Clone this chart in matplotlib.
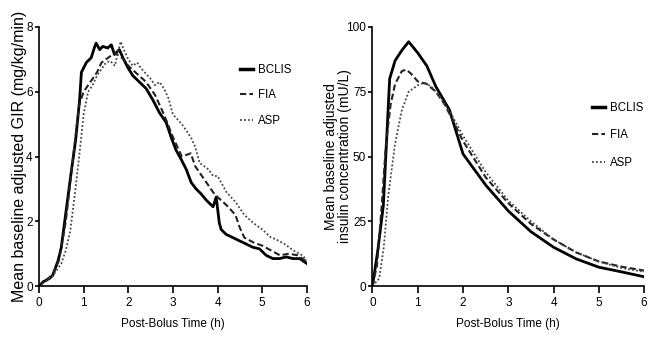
import numpy as np
import matplotlib
matplotlib.use("Agg")
import matplotlib.pyplot as plt

# GIR curves (left panel)
gir_bclis_t = [0, 0.09, 0.24, 0.31, 0.43, 0.5, 0.6, 0.72, 0.82, 0.91, 0.95, 1.06, 1.17, 1.25, 1.28,
               1.36, 1.43, 1.54, 1.62, 1.69, 1.8, 1.88, 1.99, 2.1, 2.25, 2.4, 2.55, 2.7, 2.85, 2.96,
               3.07, 3.19, 3.3, 3.41, 3.52, 3.63, 3.75, 3.9, 3.97, 4.04, 4.08, 4.19, 4.34, 4.49, 4.64,
               4.79, 4.94, 5.09, 5.24, 5.39, 5.54, 5.69, 5.84, 6.0]
gir_bclis = [0, 0.13, 0.24, 0.34, 0.8, 1.2, 2.25, 3.5, 4.5, 5.75, 6.6, 6.9, 7.05, 7.4, 7.5,
             7.3, 7.4, 7.35, 7.45, 7.15, 7.3, 7.05, 6.75, 6.5, 6.3, 6.1, 5.75, 5.35, 5.05, 4.6,
             4.2, 3.9, 3.6, 3.2, 3.0, 2.85, 2.65, 2.45, 2.75, 1.95, 1.75, 1.6, 1.5, 1.4, 1.3,
             1.2, 1.15, 0.95, 0.85, 0.85, 0.9, 0.85, 0.85, 0.7]

gir_fia_t = [0, 0.3, 0.45, 0.6, 0.75, 0.85, 0.9, 1.0, 1.1, 1.2, 1.3, 1.4, 1.5, 1.6, 1.7, 1.8, 1.9,
             2.0, 2.2, 2.4, 2.6, 2.8, 3.0, 3.2, 3.4, 3.5, 3.7, 3.9, 4.0, 4.2, 4.4, 4.5, 4.6, 4.8,
             5.0, 5.2, 5.4, 5.6, 5.8, 6.0]
gir_fia = [0, 0.35, 0.8, 2.0, 3.8, 5.0, 5.6, 6.0, 6.2, 6.4, 6.6, 6.9, 7.0, 7.1, 7.2, 7.1, 7.0,
           6.8, 6.55, 6.3, 5.9, 5.3, 4.6, 4.0, 4.1, 3.7, 3.3, 2.9, 2.75, 2.5, 2.2, 1.8, 1.5, 1.35,
           1.25, 1.1, 0.95, 1.0, 0.95, 0.75]

gir_asp_t = [0, 0.3, 0.5, 0.6, 0.7, 0.8, 0.9, 1.0, 1.1, 1.2, 1.3, 1.4, 1.5, 1.6, 1.7, 1.75, 1.83,
             1.9, 2.0, 2.1, 2.2, 2.3, 2.5, 2.6, 2.7, 2.8, 2.9, 3.0, 3.2, 3.4, 3.5, 3.6, 3.8, 3.9,
             4.0, 4.2, 4.4, 4.6, 4.8, 5.0, 5.2, 5.3, 5.5, 5.7, 5.9, 6.0]
gir_asp = [0, 0.3, 0.7, 1.1, 1.7, 2.8, 4.0, 5.3, 6.0, 6.2, 6.5, 6.7, 6.9, 6.95, 6.8, 7.1, 7.55,
           7.3, 7.0, 6.8, 6.9, 6.7, 6.4, 6.2, 6.3, 6.1, 5.8, 5.3, 5.0, 4.6, 4.3, 3.8, 3.6, 3.4,
           3.4, 2.9, 2.6, 2.2, 1.95, 1.75, 1.5, 1.45, 1.3, 1.1, 0.95, 0.8]

# insulin curves (right panel)
ins_bclis_t = [0, 0.12, 0.24, 0.38, 0.5, 0.65, 0.8, 1.0, 1.2, 1.4, 1.5, 1.7, 2.0, 2.5, 3.0, 3.5,
               4.0, 4.5, 5.0, 5.5, 6.0]
ins_bclis = [0, 14, 31, 80, 87, 91, 94.3, 90, 85, 77, 74, 68, 51, 39, 29, 21, 15, 10.5, 7.3, 5.5, 3.6]

ins_fia_t = [0, 0.1, 0.2, 0.3, 0.4, 0.5, 0.65, 0.75, 0.85, 1.0, 1.2, 1.4, 1.6, 2.0, 2.5, 3.0, 3.5,
             4.0, 4.5, 5.0, 5.5, 6.0]
ins_fia = [0, 8, 30, 55, 70, 78, 83, 83.5, 82, 79, 78, 75, 70, 56, 42, 32, 24, 18, 13, 9.5, 7.5, 6]

ins_asp_t = [0, 0.15, 0.25, 0.35, 0.5, 0.65, 0.8, 1.0, 1.15, 1.3, 1.5, 1.75, 2.0, 2.5, 3.0, 3.5,
             4.0, 4.5, 5.0, 5.5, 6.0]
ins_asp = [0, 3, 15, 35, 55, 68, 75, 77.5, 78.5, 77, 73, 66, 58, 44, 33, 25, 18, 13, 9.5, 7, 5.5]

labels = ["BCLIS", "FIA", "ASP"]

plt.rcParams["font.family"] = ["Liberation Sans", "DejaVu Sans"]

fig = plt.figure(figsize=(6.5, 3.37), dpi=100)
ax1 = fig.add_axes([0.06, 0.151, 0.412, 0.769])
ax2 = fig.add_axes([0.573, 0.151, 0.418, 0.769])


def style_axes(ax, ymax, yticks):
    for s in ["top", "right"]:
        ax.spines[s].set_visible(False)
    ax.spines["left"].set_linewidth(1.2)
    ax.spines["bottom"].set_linewidth(1.2)
    ax.set_xlim(0, 6)
    ax.set_ylim(0, ymax)
    ax.set_xticks(range(7))
    ax.set_yticks(yticks)
    ax.tick_params(axis="x", direction="out", length=5, width=1.2, pad=3, labelsize=8.5)
    ax.tick_params(axis="y", direction="out", length=3, width=1.2, pad=1.5, labelsize=8.5)
    ax.set_xlabel("Post-Bolus Time (h)", fontsize=8.5, labelpad=6)


def draw(ax, data):
    (t1, y1), (t2, y2), (t3, y3) = data
    h1, = ax.plot(t1, y1, color="black", lw=2.0, ls="-")
    h2, = ax.plot(t2, y2, color="#222222", lw=1.5, ls=(0, (3, 1.5)))
    h3, = ax.plot(t3, y3, color="#444444", lw=1.3, ls=(0, (1, 1.2)))
    return [h1, h2, h3]


hs1 = draw(ax1, [(gir_bclis_t, gir_bclis), (gir_fia_t, gir_fia), (gir_asp_t, gir_asp)])
style_axes(ax1, 8, [0, 2, 4, 6, 8])
ax1.set_ylabel("Mean baseline adjusted GIR (mg/kg/min)", fontsize=11.5)
ax1.yaxis.set_label_coords(-0.045, 0.5)

hs2 = draw(ax2, [(ins_bclis_t, ins_bclis), (ins_fia_t, ins_fia), (ins_asp_t, ins_asp)])
style_axes(ax2, 100, [0, 25, 50, 75, 100])
ax2.set_ylabel("Mean baseline adjusted\ninsulin concentration (mU/L)", fontsize=10,
               linespacing=1.0)
ax2.yaxis.set_label_coords(-0.074, 0.5)

for hs, pos, sp in [(hs1, (0.369, 0.717), 1.2), (hs2, (0.911, 0.598), 1.35)]:
    leg = fig.legend(hs, labels, loc="center left", bbox_to_anchor=pos, frameon=False,
                     handlelength=1.1, handletextpad=0.45, labelspacing=sp,
                     borderpad=0, borderaxespad=0, prop={"size": 8.3})
    leg.legend_handles[0].set_linewidth(2.5)

fig.savefig("out.png", dpi=100)
